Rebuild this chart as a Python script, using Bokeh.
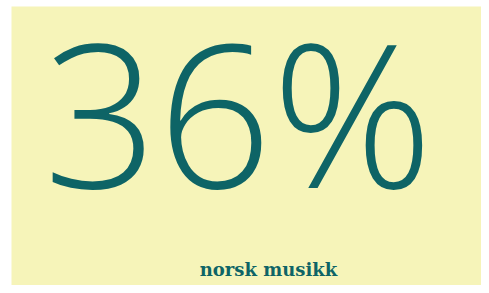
from bokeh.plotting import figure
from bokeh.models import Range1d
from bokeh.core.properties import value
from bokeh.embed import file_html
from bokeh.resources import INLINE

# data
share_value = [36]
share_label = ["norsk musikk"]

W, H = 481, 285
TEAL = "#0e6466"
BG = "#f6f4b9"

BIG_SIZE = 200
SMALL_SIZE = 18
SHIFT = 0.39  # renderer places the alphabetic anchor this far (in em) above the baseline

p = figure(width=W, height=H, output_backend="svg", toolbar_location=None,
           x_range=Range1d(0, W), y_range=Range1d(0, H), min_border=0)
p.axis.visible = False
p.grid.visible = False
p.outline_line_color = None
p.background_fill_color = "white"
p.border_fill_color = "white"

# panel background (y measured from the bottom)
p.quad(left=[11], right=[W], top=[H - 6], bottom=[0], fill_color=BG, line_color=None)

big = [f"{v}%" for v in share_value]
p.text(x=[240], y=[H - (188 - SHIFT * BIG_SIZE)], text=big,
       text_font=value("'Open Sans Medium', 'Open Sans'"),
       text_font_size=f"{BIG_SIZE}px", text_color=TEAL, text_align="center",
       text_baseline="alphabetic")

p.text(x=[268], y=[H - (276 - SHIFT * SMALL_SIZE)], text=share_label,
       text_font=value("DejaVu Serif"), text_font_style="bold",
       text_font_size=f"{SMALL_SIZE}px", text_color=TEAL,
       text_align="center", text_baseline="alphabetic")

open("out.html", "w").write(file_html(p, INLINE))
